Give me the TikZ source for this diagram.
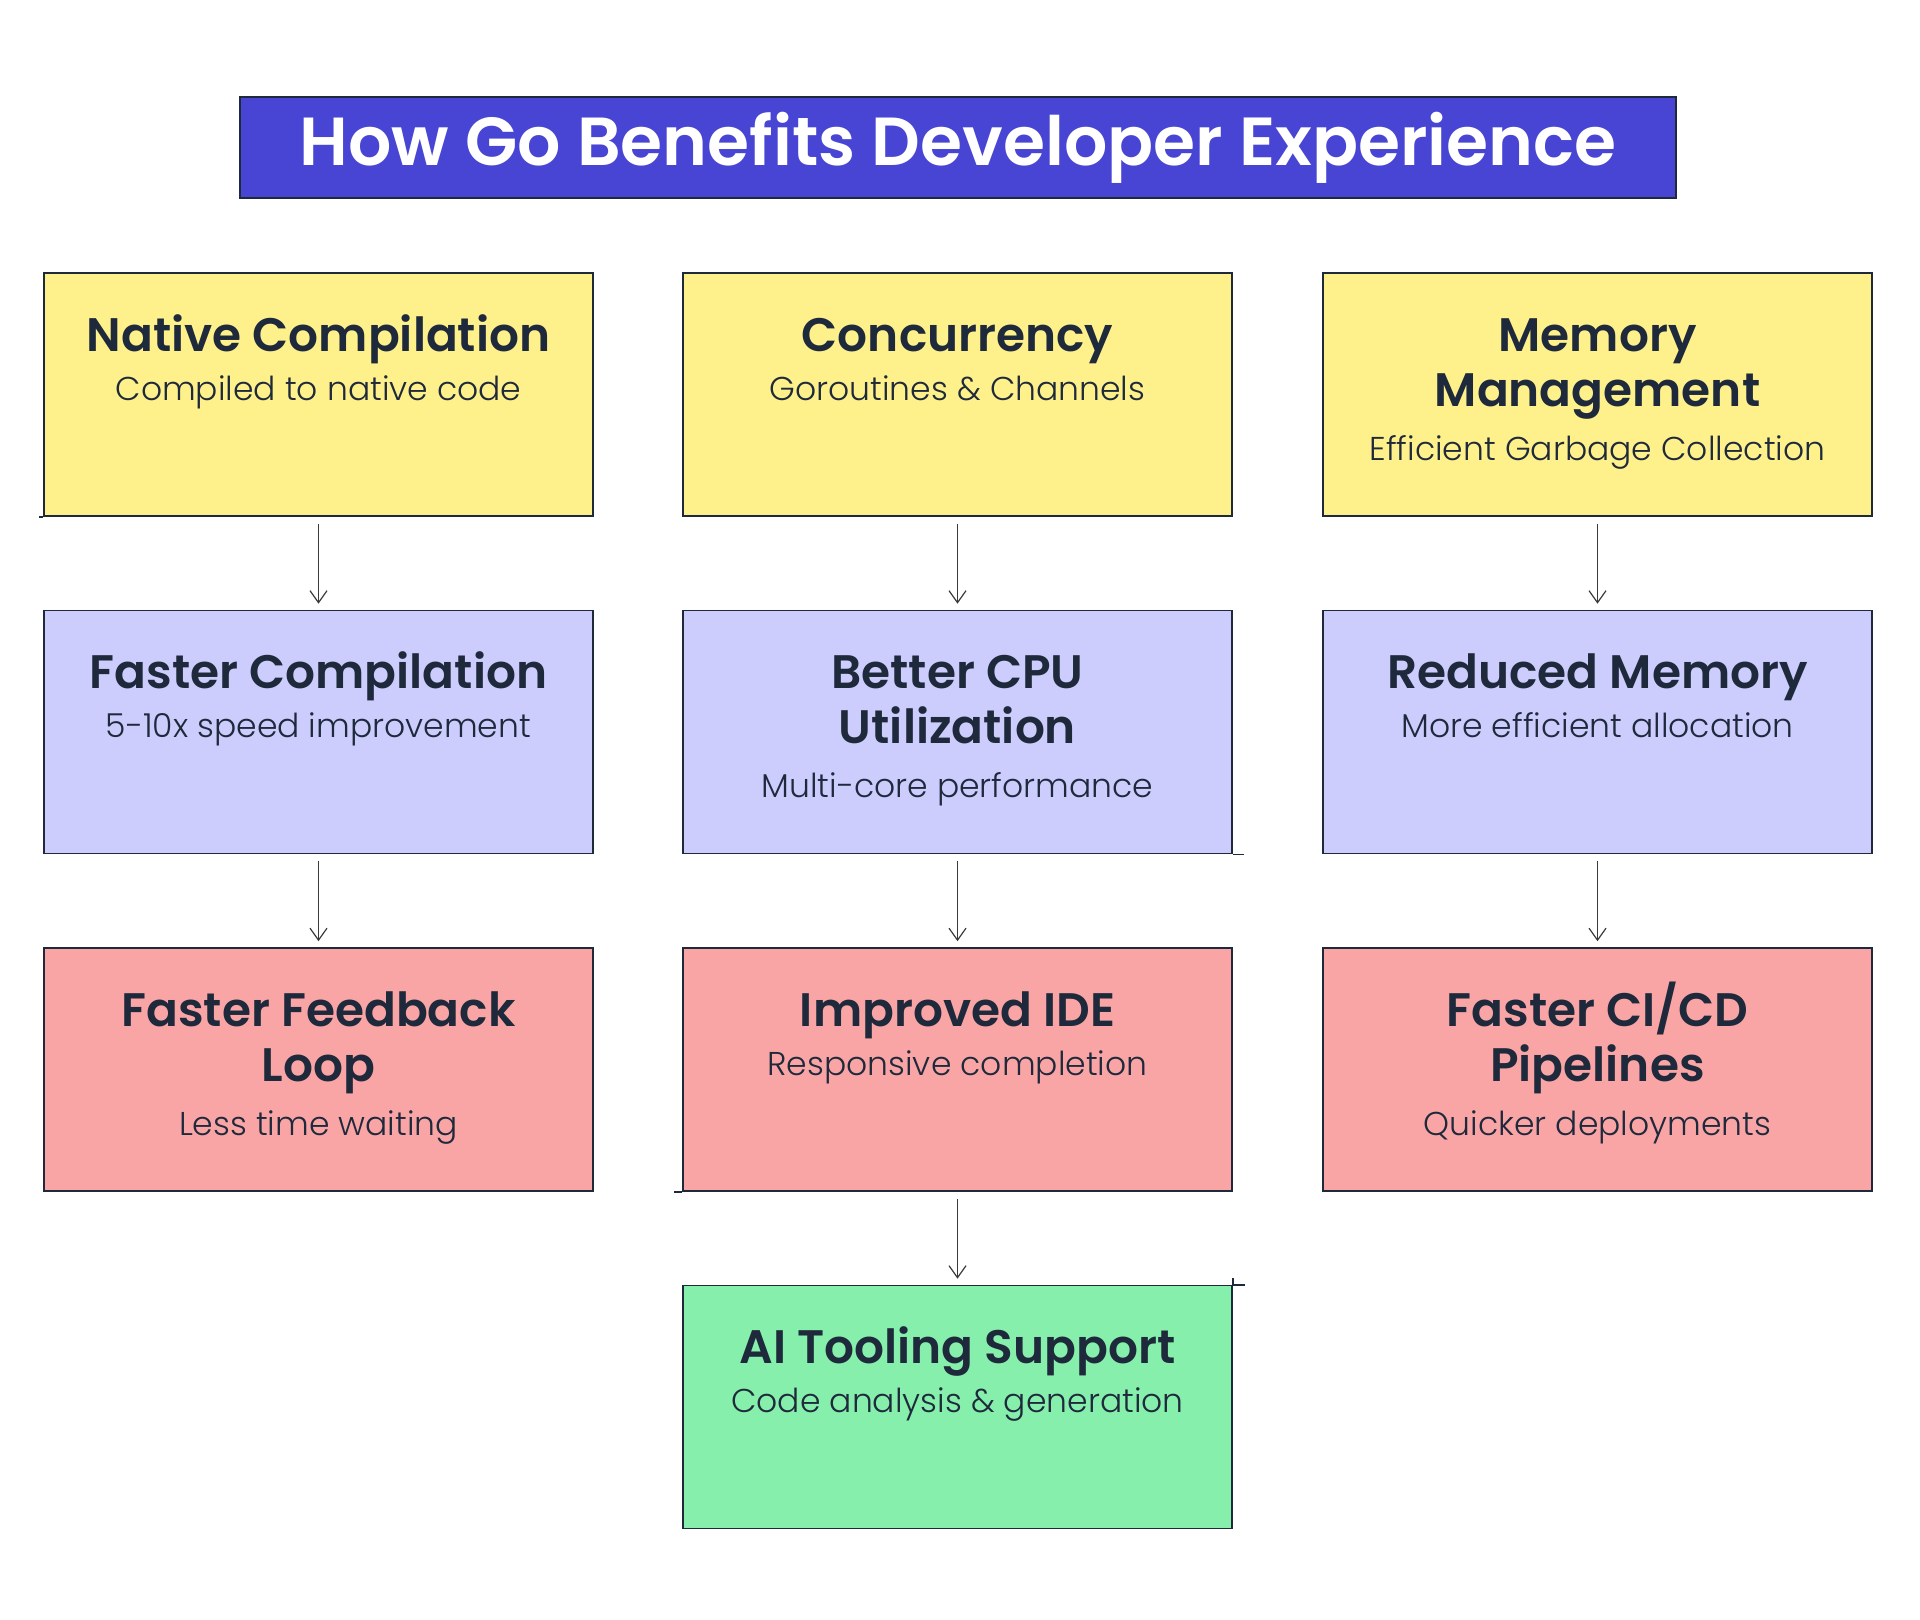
\documentclass[tikz,border=0pt]{standalone}
\usepackage{fontspec}
\setmainfont{Poppins}[UprightFont=* Light, BoldFont=* SemiBold]
\usetikzlibrary{arrows.meta,positioning}

\definecolor{inkline}{HTML}{1E293B}
\definecolor{titlefill}{HTML}{4845D4}
\definecolor{causefill}{HTML}{FEF08A}
\definecolor{gainfill}{HTML}{CCCCFD}
\definecolor{resultfill}{HTML}{FAA5A5}
\definecolor{aifill}{HTML}{86EFAC}
\definecolor{arrowgray}{HTML}{3A3A3A}

\tikzset{
  headbox/.style={draw=inkline, line width=1.6pt, fill=titlefill, text=white,
    minimum width=1436pt, minimum height=101pt, inner sep=0pt,
    font=\fontsize{68}{72}\selectfont\bfseries},
  card/.style={draw=inkline, line width=1.6pt, inner sep=0pt,
    minimum width=549pt, minimum height=243pt},
  cause/.style={card, fill=causefill},
  gain/.style={card, fill=gainfill},
  result/.style={card, fill=resultfill},
  aibox/.style={card, fill=aifill},
  flow/.style={draw=arrowgray, line width=1.2pt,
    -{Straight Barb[length=12pt,width=17pt]}, shorten <=7pt, shorten >=6pt},
  sketch/.style={draw=inkline, line width=1.6pt}
}

% heading, subtitle; optional: gap from last heading line to subtitle
\newcommand{\cardtext}[3][49]{\parbox[c][243pt][t]{549pt}{\centering
  \rule{0pt}{78pt}{\fontsize{47}{55}\selectfont\bfseries\color{inkline}#2\par}
  {\fontsize{33}{#1}\selectfont\color{inkline}#3\par}}}

\begin{document}
\begin{tikzpicture}[x=1pt,y=-1pt]
  \useasboundingbox (0,0) rectangle (1920,1620);

  \node[headbox] (title) at (958,147.5) {How Go Benefits Developer Experience};

  % first row: language features
  \node[cause] (nc) at (318.5,394.5) {\cardtext{Native Compilation}{Compiled to native code}};
  \node[cause] (cc) at (957.5,394.5) {\cardtext{Concurrency}{Goroutines \& Channels}};
  \node[cause] (mm) at (1597.5,394.5) {\cardtext[54]{Memory\\Management}{Efficient Garbage Collection}};

  % second row
  \node[gain] (fc) at (318.5,732) {\cardtext{Faster Compilation}{5-10x speed improvement}};
  \node[gain] (cpu) at (957.5,732) {\cardtext[54]{Better CPU\\Utilization}{Multi-core performance}};
  \node[gain] (rm) at (1597.5,732) {\cardtext{Reduced Memory}{More efficient allocation}};

  % third row
  \node[result] (ff) at (318.5,1069.5) {\cardtext[54]{Faster Feedback\\Loop}{Less time waiting}};
  \node[result] (ide) at (957.5,1069.5) {\cardtext{Improved IDE}{Responsive completion}};
  \node[result] (cicd) at (1597.5,1069.5) {\cardtext[54]{Faster CI/CD\\Pipelines}{Quicker deployments}};

  \node[aibox] (ai) at (957.5,1407) {\cardtext{AI Tooling Support}{Code analysis \& generation}};

  \path[flow]
  \foreach \a/\b in {nc/fc,fc/ff,cc/cpu,cpu/ide,ide/ai,mm/rm,rm/cicd}{
    (\a) edge (\b)
  };

  % rough pen overshoots
  \draw[sketch] (nc.south west) -- ++(-4,0);
  \draw[sketch] (cpu.south east) -- ++(11,0);
  \draw[sketch] (ide.south west) -- ++(-8,0);
  \draw[sketch] (ai.north east) -- ++(12,0);
  \draw[sketch] (ai.north east) -- ++(0,-7);
\end{tikzpicture}
\end{document}
